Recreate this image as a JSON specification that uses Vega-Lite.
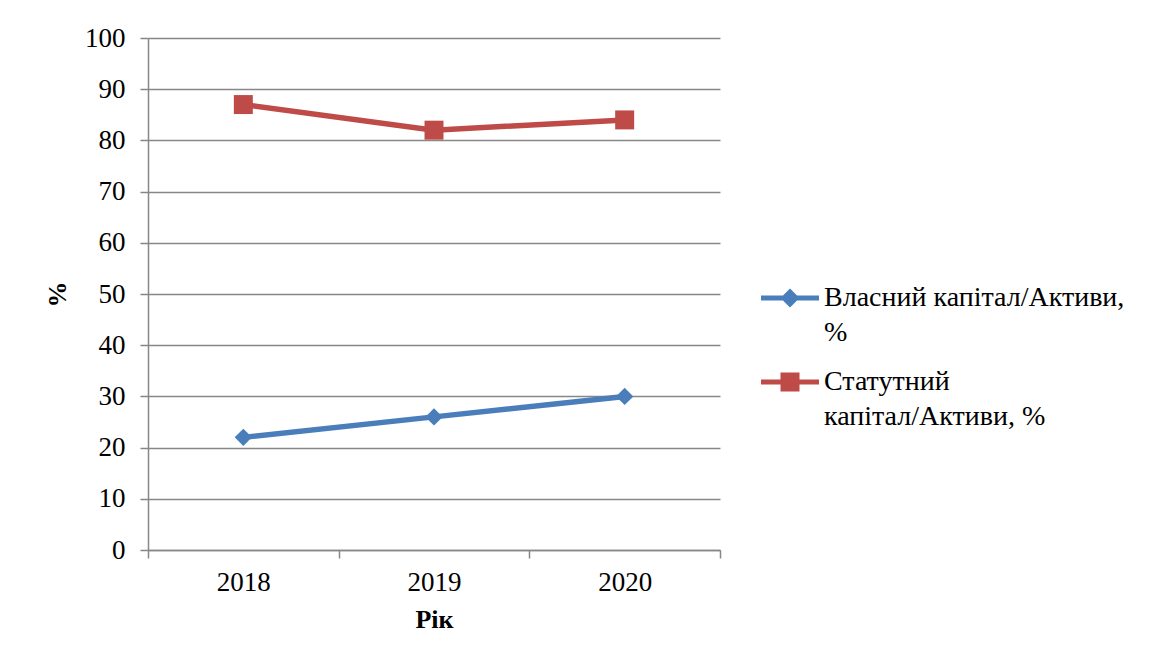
{
  "$schema": "https://vega.github.io/schema/vega-lite/v6.json",
  "width": 572,
  "height": 512,
  "padding": {"left": 148, "top": 38, "right": 433, "bottom": 116},
  "autosize": {"type": "none"},
  "background": "white",
  "config": {
    "view": {"stroke": null},
    "font": "Liberation Serif"
  },
  "data": {
    "values": [
      {"year": "2018", "series": "Власний капітал/Активи, %", "value": 22},
      {"year": "2019", "series": "Власний капітал/Активи, %", "value": 26},
      {"year": "2020", "series": "Власний капітал/Активи, %", "value": 30},
      {"year": "2018", "series": "Статутний капітал/Активи, %", "value": 87},
      {"year": "2019", "series": "Статутний капітал/Активи, %", "value": 82},
      {"year": "2020", "series": "Статутний капітал/Активи, %", "value": 84}
    ]
  },
  "encoding": {
    "x": {
      "field": "year", "type": "ordinal", "bandPosition": 0.5,
      "scale": {"type": "band", "paddingInner": 0, "paddingOuter": 0},
      "axis": {
        "title": "Рік", "labelAngle": 0, "tickBand": "extent",
        "labelFont": "Liberation Serif", "labelFontSize": 27, "labelColor": "black",
        "labelPadding": 11, "tickSize": 8, "tickColor": "#878787", "tickWidth": 1.5,
        "domainColor": "#878787", "domainWidth": 1.5,
        "titleFont": "Liberation Serif", "titleFontSize": 26, "titleFontWeight": "bold",
        "titleColor": "black", "titlePadding": 11
      }
    },
    "y": {
      "field": "value", "type": "quantitative",
      "scale": {"domain": [0, 100], "nice": false},
      "axis": {
        "title": "%", "values": [0, 10, 20, 30, 40, 50, 60, 70, 80, 90, 100],
        "labelFont": "Liberation Serif", "labelFontSize": 27, "labelColor": "black",
        "labelPadding": 15, "tickSize": 8, "tickColor": "#878787", "tickWidth": 1.5,
        "domainColor": "#878787", "domainWidth": 1.5,
        "grid": true, "gridColor": "#878787", "gridWidth": 1.5,
        "titleFont": "Liberation Serif", "titleFontSize": 26, "titleFontWeight": "bold",
        "titleColor": "black", "titlePadding": 14
      }
    },
    "color": {
      "field": "series", "type": "nominal",
      "scale": {
        "domain": ["Власний капітал/Активи, %", "Статутний капітал/Активи, %"],
        "range": ["#4A7EBB", "#BE4B48"]
      },
      "legend": {
        "orient": "none", "legendX": 628, "legendY": 246, "title": null,
        "labelFont": "Liberation Serif", "labelFontSize": 28, "labelColor": "black",
        "labelLimit": 500, "labelOffset": 20, "rowPadding": 18,
        "symbolSize": 100, "symbolStrokeWidth": 5,
        "labelExpr": "datum.label == 'Власний капітал/Активи, %' ? ['Власний капітал/Активи,', '%'] : ['Статутний', 'капітал/Активи, %']",
        "encode": {
          "labels": {"update": {"lineHeight": {"value": 35}}},
          "symbols": {
            "update": {
              "shape": {"signal": "datum.value == 'Власний капітал/Активи, %' ? 'M-5.8,0L5.8,0M0,-1.2L1.2,0L0,1.2L-1.2,0Z' : 'M-5.8,0L5.8,0M-1.4,-1.4L1.4,-1.4L1.4,1.4L-1.4,1.4Z'"},
              "fill": {"scale": "color", "field": "value"},
              "stroke": {"scale": "color", "field": "value"},
              "fillOpacity": {"value": 1},
              "strokeOpacity": {"value": 1}
            }
          }
        }
      }
    }
  },
  "layer": [
    {
      "mark": {"type": "line", "strokeWidth": 5.5}
    },
    {
      "transform": [{"filter": "datum.series == 'Власний капітал/Активи, %'"}],
      "mark": {"type": "point", "filled": true, "opacity": 1, "shape": "diamond", "size": 300}
    },
    {
      "transform": [{"filter": "datum.series == 'Статутний капітал/Активи, %'"}],
      "mark": {"type": "point", "filled": true, "opacity": 1, "shape": "square", "size": 360}
    }
  ]
}
